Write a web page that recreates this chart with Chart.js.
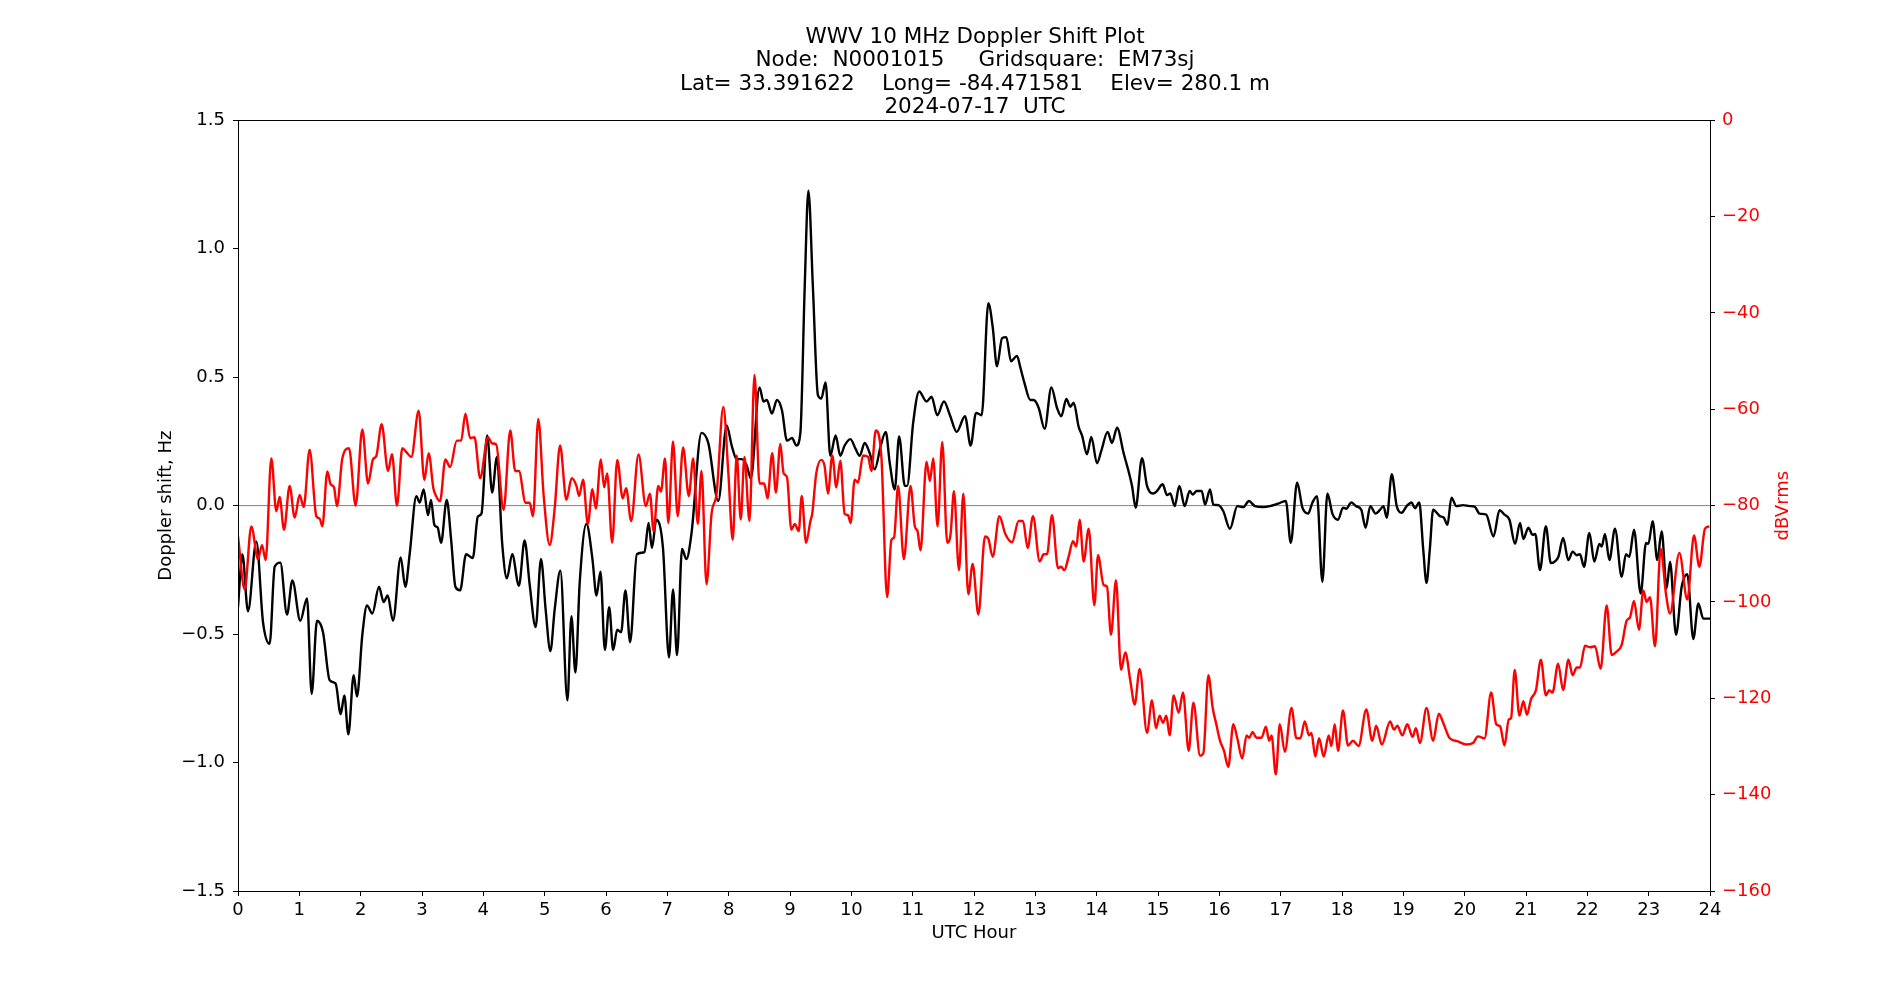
<!DOCTYPE html>
<html>
<head>
<meta charset="utf-8">
<title>WWV 10 MHz Doppler Shift Plot</title>
<script src="https://cdn.jsdelivr.net/npm/chart.js@4/dist/chart.umd.min.js"></script>
<style>
  html, body { margin: 0; padding: 0; background: #fff; }
  canvas { display: block; }
</style>
</head>
<body>
<canvas id="dopplerChart" width="1900" height="1000"></canvas>
<script>
// Doppler shift trace (black, left axis) - hours UTC and Hz
const dopplerHours = [
  0.000, 0.071, 0.163, 0.299, 0.408, 0.516, 0.598, 0.690, 0.799, 0.886,
  1.016, 1.125, 1.201, 1.288, 1.386, 1.495, 1.592, 1.674, 1.734, 1.799,
  1.886, 1.940, 2.027, 2.103, 2.190, 2.299, 2.375, 2.440, 2.527, 2.652,
  2.728, 2.799, 2.908, 2.962, 3.027, 3.098, 3.147, 3.202, 3.255, 3.311,
  3.403, 3.474, 3.545, 3.621, 3.719, 3.828, 3.910, 3.970, 4.063, 4.144,
  4.221, 4.308, 4.384, 4.471, 4.580, 4.673, 4.755, 4.853, 4.940, 5.016,
  5.093, 5.163, 5.256, 5.371, 5.436, 5.501, 5.572, 5.681, 5.779, 5.845,
  5.910, 5.981, 6.052, 6.117, 6.183, 6.246, 6.317, 6.393, 6.503, 6.628,
  6.694, 6.749, 6.820, 6.929, 7.027, 7.093, 7.158, 7.240, 7.311, 7.393,
  7.557, 7.667, 7.831, 7.967, 8.049, 8.131, 8.213, 8.295, 8.361, 8.503,
  8.568, 8.623, 8.705, 8.787, 8.869, 8.951, 9.033, 9.104, 9.169, 9.240,
  9.300, 9.373, 9.455, 9.510, 9.580, 9.657, 9.744, 9.820, 9.891, 9.984,
  10.071, 10.136, 10.218, 10.300, 10.381, 10.480, 10.561, 10.627, 10.708, 10.779,
  10.872, 10.910, 11.008, 11.106, 11.226, 11.308, 11.401, 11.510, 11.608, 11.717,
  11.853, 11.946, 12.033, 12.125, 12.234, 12.305, 12.375, 12.457, 12.527, 12.603,
  12.701, 12.755, 12.821, 12.918, 12.973, 13.054, 13.152, 13.261, 13.353, 13.424,
  13.505, 13.571, 13.625, 13.707, 13.761, 13.842, 13.913, 14.005, 14.076, 14.179,
  14.250, 14.332, 14.440, 14.576, 14.636, 14.739, 14.821, 14.918, 14.984, 15.076,
  15.147, 15.201, 15.272, 15.348, 15.435, 15.516, 15.565, 15.631, 15.712, 15.767,
  15.848, 15.902, 15.984, 16.065, 16.173, 16.293, 16.390, 16.482, 16.580, 16.715,
  16.824, 16.959, 17.084, 17.165, 17.268, 17.355, 17.447, 17.518, 17.593, 17.680,
  17.762, 17.843, 17.935, 18.016, 18.070, 18.152, 18.230, 18.314, 18.385, 18.461,
  18.547, 18.622, 18.676, 18.730, 18.811, 18.892, 18.973, 19.054, 19.135, 19.189,
  19.259, 19.324, 19.378, 19.432, 19.486, 19.595, 19.660, 19.719, 19.784, 19.865,
  19.973, 20.081, 20.162, 20.243, 20.351, 20.470, 20.568, 20.649, 20.730, 20.822,
  20.903, 20.957, 21.038, 21.108, 21.151, 21.227, 21.324, 21.405, 21.486, 21.530,
  21.605, 21.690, 21.761, 21.826, 21.880, 21.946, 22.033, 22.114, 22.196, 22.234,
  22.288, 22.359, 22.451, 22.560, 22.630, 22.685, 22.761, 22.870, 22.957, 22.995,
  23.065, 23.141, 23.212, 23.293, 23.348, 23.446, 23.538, 23.630, 23.728, 23.810,
  23.891, 24.000
];
const dopplerHz = [
  -0.395, -0.189, -0.411, -0.139, -0.454, -0.538, -0.238, -0.222, -0.424, -0.291,
  -0.448, -0.361, -0.733, -0.448, -0.493, -0.680, -0.693, -0.811, -0.739, -0.890,
  -0.660, -0.743, -0.503, -0.389, -0.420, -0.316, -0.375, -0.350, -0.448, -0.202,
  -0.316, -0.189, 0.037, 0.012, 0.063, -0.037, 0.022, -0.075, -0.085, -0.145,
  0.022, -0.130, -0.316, -0.330, -0.189, -0.204, -0.043, -0.031, 0.273, 0.051,
  0.189, -0.149, -0.283, -0.189, -0.312, -0.136, -0.306, -0.473, -0.208, -0.405,
  -0.566, -0.405, -0.253, -0.758, -0.430, -0.650, -0.297, -0.071, -0.208, -0.350,
  -0.257, -0.562, -0.395, -0.562, -0.483, -0.493, -0.330, -0.532, -0.189, -0.181,
  -0.067, -0.165, -0.055, -0.165, -0.591, -0.326, -0.582, -0.169, -0.208, -0.110,
  0.283, 0.244, 0.018, 0.312, 0.234, 0.181, 0.181, 0.155, 0.106, 0.460,
  0.405, 0.411, 0.358, 0.411, 0.371, 0.253, 0.263, 0.234, 0.283, 0.853,
  1.226, 0.853, 0.430, 0.417, 0.479, 0.194, 0.273, 0.194, 0.234, 0.259,
  0.220, 0.194, 0.244, 0.204, 0.141, 0.234, 0.287, 0.165, 0.063, 0.269,
  0.077, 0.077, 0.322, 0.444, 0.405, 0.424, 0.352, 0.405, 0.352, 0.287,
  0.348, 0.234, 0.361, 0.352, 0.788, 0.695, 0.542, 0.652, 0.656, 0.562,
  0.583, 0.538, 0.479, 0.411, 0.411, 0.381, 0.299, 0.460, 0.381, 0.348,
  0.415, 0.385, 0.401, 0.306, 0.273, 0.200, 0.267, 0.165, 0.214, 0.287,
  0.244, 0.303, 0.204, 0.077, -0.008, 0.185, 0.077, 0.047, 0.057, 0.083,
  0.041, 0.047, -0.002, 0.077, -0.002, 0.057, 0.043, 0.057, 0.057, 0.004,
  0.063, 0.004, 0.002, -0.022, -0.090, -0.002, -0.006, 0.018, -0.002, -0.006,
  -0.002, 0.008, 0.018, -0.145, 0.090, -0.008, -0.031, 0.012, 0.037, -0.297,
  0.047, -0.031, -0.055, -0.008, -0.012, 0.012, -0.002, -0.016, -0.086, -0.002,
  -0.031, -0.016, -0.002, -0.047, 0.122, -0.002, -0.028, -0.002, 0.012, -0.010,
  0.012, -0.169, -0.301, -0.169, -0.016, -0.041, -0.047, -0.075, 0.031, -0.002,
  0.002, -0.002, -0.004, -0.031, -0.035, -0.120, -0.018, -0.035, -0.055, -0.149,
  -0.067, -0.130, -0.086, -0.114, -0.110, -0.251, -0.080, -0.224, -0.214, -0.198,
  -0.126, -0.212, -0.179, -0.193, -0.189, -0.238, -0.106, -0.218, -0.149, -0.159,
  -0.110, -0.212, -0.090, -0.277, -0.189, -0.199, -0.094, -0.342, -0.145, -0.149,
  -0.061, -0.212, -0.100, -0.322, -0.218, -0.503, -0.316, -0.267, -0.519, -0.381,
  -0.440, -0.440
];

// Received power trace (red, right axis) - hours UTC and dBVrms
const powerHours = [
  0.000, 0.109, 0.217, 0.326, 0.391, 0.451, 0.543, 0.625, 0.679, 0.750,
  0.842, 0.924, 1.005, 1.071, 1.168, 1.277, 1.332, 1.375, 1.457, 1.511,
  1.565, 1.614, 1.701, 1.810, 1.918, 2.027, 2.120, 2.201, 2.255, 2.342,
  2.446, 2.511, 2.592, 2.679, 2.745, 2.826, 2.946, 3.038, 3.109, 3.185,
  3.229, 3.294, 3.381, 3.458, 3.567, 3.638, 3.708, 3.785, 3.856, 3.948,
  4.074, 4.144, 4.210, 4.330, 4.439, 4.520, 4.580, 4.689, 4.755, 4.809,
  4.896, 4.984, 5.082, 5.163, 5.251, 5.354, 5.441, 5.518, 5.561, 5.627,
  5.703, 5.779, 5.834, 5.916, 5.970, 6.019, 6.101, 6.183, 6.273, 6.328,
  6.410, 6.530, 6.650, 6.716, 6.776, 6.852, 6.896, 6.962, 7.016, 7.093,
  7.169, 7.257, 7.350, 7.421, 7.497, 7.557, 7.639, 7.721, 7.803, 7.913,
  7.995, 8.066, 8.131, 8.197, 8.257, 8.339, 8.421, 8.503, 8.579, 8.634,
  8.710, 8.770, 8.842, 8.896, 8.951, 9.022, 9.077, 9.142, 9.191, 9.262,
  9.333, 9.362, 9.428, 9.510, 9.564, 9.619, 9.690, 9.755, 9.820, 9.891,
  9.946, 9.989, 10.054, 10.109, 10.191, 10.272, 10.327, 10.398, 10.490, 10.583,
  10.654, 10.697, 10.763, 10.856, 10.965, 11.035, 11.079, 11.128, 11.226, 11.281,
  11.335, 11.406, 11.482, 11.564, 11.619, 11.673, 11.755, 11.826, 11.907, 11.978,
  12.071, 12.180, 12.234, 12.305, 12.414, 12.511, 12.620, 12.728, 12.799, 12.875,
  12.962, 13.071, 13.136, 13.190, 13.272, 13.370, 13.418, 13.473, 13.543, 13.614,
  13.668, 13.723, 13.788, 13.870, 13.962, 14.022, 14.114, 14.168, 14.234, 14.315,
  14.397, 14.467, 14.549, 14.620, 14.701, 14.821, 14.902, 14.967, 15.027, 15.082,
  15.136, 15.190, 15.255, 15.337, 15.408, 15.500, 15.577, 15.686, 15.740, 15.821,
  15.892, 15.946, 16.011, 16.076, 16.146, 16.228, 16.293, 16.374, 16.444, 16.488,
  16.542, 16.607, 16.688, 16.759, 16.813, 16.851, 16.921, 16.986, 17.068, 17.176,
  17.257, 17.322, 17.393, 17.463, 17.501, 17.566, 17.626, 17.702, 17.783, 17.827,
  17.881, 17.935, 18.016, 18.098, 18.179, 18.271, 18.396, 18.493, 18.558, 18.649,
  18.784, 18.849, 18.903, 18.984, 19.065, 19.151, 19.205, 19.270, 19.378, 19.486,
  19.578, 19.659, 19.757, 19.876, 20.027, 20.135, 20.216, 20.324, 20.432, 20.514,
  20.578, 20.649, 20.719, 20.757, 20.816, 20.892, 20.957, 21.016, 21.081, 21.162,
  21.243, 21.324, 21.378, 21.432, 21.524, 21.605, 21.692, 21.761, 21.826, 21.880,
  21.962, 22.043, 22.125, 22.217, 22.315, 22.397, 22.478, 22.560, 22.641, 22.696,
  22.761, 22.842, 22.913, 22.967, 23.022, 23.103, 23.196, 23.283, 23.348, 23.500,
  23.630, 23.739, 23.826, 23.918, 23.989
];
const powerDb = [
  -86.4, -97.4, -84.3, -91.1, -88.2, -91.3, -70.2, -81.2, -78.2, -85.0,
  -75.9, -82.5, -77.8, -80.3, -68.4, -82.2, -82.7, -84.3, -72.9, -75.6,
  -76.2, -80.1, -70.2, -68.1, -80.0, -64.2, -75.4, -70.4, -69.7, -63.1,
  -72.8, -69.3, -80.0, -68.1, -68.9, -69.9, -60.3, -74.7, -69.1, -76.4,
  -78.0, -79.1, -70.4, -72.0, -66.5, -66.5, -60.9, -66.0, -65.8, -74.3,
  -65.8, -67.1, -67.3, -80.9, -64.4, -72.8, -72.8, -79.4, -79.4, -82.2,
  -62.0, -78.0, -88.2, -80.6, -67.5, -78.8, -74.3, -75.9, -78.0, -74.6,
  -83.8, -76.6, -80.6, -70.4, -76.2, -73.3, -87.7, -70.5, -78.5, -76.4,
  -83.2, -69.4, -80.1, -77.5, -85.3, -75.9, -77.1, -70.2, -83.6, -66.7,
  -82.2, -67.9, -78.0, -70.2, -83.8, -72.8, -96.3, -81.7, -77.5, -59.5,
  -73.3, -87.1, -69.6, -82.9, -69.9, -83.2, -52.9, -75.4, -75.4, -78.5,
  -69.1, -77.3, -67.2, -73.3, -74.1, -85.0, -83.8, -85.3, -78.0, -87.7,
  -83.2, -81.7, -73.3, -70.5, -71.8, -77.5, -69.6, -76.2, -70.7, -81.7,
  -82.0, -83.6, -74.6, -75.2, -69.6, -69.9, -72.8, -64.4, -69.9, -99.0,
  -87.1, -86.6, -75.9, -91.1, -75.9, -84.3, -85.3, -89.3, -70.9, -74.9,
  -70.2, -84.3, -66.8, -87.7, -85.8, -77.0, -93.4, -77.5, -98.4, -92.1,
  -102.6, -86.4, -86.9, -90.6, -82.2, -85.9, -87.6, -83.2, -83.2, -88.8,
  -82.2, -91.6, -90.1, -90.1, -82.0, -93.0, -92.7, -93.4, -90.6, -87.4,
  -88.5, -82.9, -91.6, -84.8, -100.7, -90.3, -96.5, -96.8, -106.8, -95.5,
  -114.1, -110.5, -116.4, -121.3, -113.9, -127.2, -120.4, -126.2, -123.6, -125.1,
  -123.6, -127.7, -119.4, -123.0, -118.8, -130.9, -120.9, -131.9, -131.4, -115.2,
  -122.0, -125.1, -128.8, -130.9, -134.2, -125.4, -128.3, -132.5, -127.7, -128.2,
  -127.0, -128.2, -128.2, -125.9, -128.8, -127.7, -135.8, -125.4, -131.1, -122.0,
  -128.3, -128.3, -124.8, -127.7, -127.2, -132.1, -128.3, -132.1, -127.7, -129.9,
  -125.4, -130.9, -122.5, -129.8, -128.8, -129.9, -122.3, -128.8, -125.7, -129.6,
  -124.8, -126.5, -125.7, -127.7, -125.4, -128.0, -126.2, -129.3, -122.0, -128.8,
  -123.2, -125.4, -128.3, -128.9, -129.6, -129.3, -127.9, -128.3, -118.8, -125.4,
  -125.8, -129.8, -124.4, -124.1, -114.1, -123.6, -120.6, -123.4, -120.2, -118.3,
  -112.0, -119.4, -118.3, -118.8, -112.8, -118.3, -112.0, -115.2, -113.6, -113.6,
  -109.1, -109.4, -109.2, -113.9, -100.7, -111.0, -110.3, -108.9, -103.9, -103.2,
  -99.8, -105.8, -97.6, -100.0, -99.0, -109.2, -89.0, -98.4, -102.4, -89.8,
  -99.5, -86.2, -92.7, -84.8, -84.3
];

// Zero reference line
const zeroHours = [0, 24];
const zeroHz = [0, 0];

const titleLines = [
  'WWV 10 MHz Doppler Shift Plot',
  'Node:  N0001015     Gridsquare:  EM73sj',
  'Lat= 33.391622    Long= -84.471581    Elev= 280.1 m',
  '2024-07-17  UTC'
];

const toPoints = (xs, ys) => xs.map((x, i) => ({ x, y: ys[i] }));
const minus = s => String(s).replace('-', '\u2212');

Chart.defaults.font.family = "'DejaVu Sans', sans-serif";
Chart.defaults.font.size = 18;
Chart.defaults.color = '#000';

// box around plot area + right axis label (reads bottom-to-top like matplotlib)
const framePlugin = {
  id: 'frame',
  afterDatasetsDraw(chart) {
    const { ctx, chartArea: a } = chart;
    ctx.save();
    ctx.strokeStyle = '#000';
    ctx.lineWidth = 1;
    ctx.strokeRect(Math.round(a.left) + 0.5, Math.round(a.top) + 0.5,
      Math.round(a.right - a.left), Math.round(a.bottom - a.top));
    ctx.restore();
  },
  afterDraw(chart) {
    const { ctx, chartArea: a } = chart;
    ctx.save();
    ctx.translate(1783, (a.top + a.bottom) / 2);
    ctx.rotate(-Math.PI / 2);
    ctx.fillStyle = '#ff0000';
    ctx.font = "18px 'DejaVu Sans', sans-serif";
    ctx.textAlign = 'center';
    ctx.textBaseline = 'middle';
    ctx.fillText('dBVrms', 0, 0);
    ctx.restore();
  }
};

new Chart(document.getElementById('dopplerChart'), {
  type: 'line',
  data: {
    datasets: [
      {
        label: 'dBVrms',
        data: toPoints(powerHours, powerDb),
        yAxisID: 'y1',
        borderColor: '#ff0000',
        borderWidth: 2.4,
        cubicInterpolationMode: 'monotone',
        order: 0
      },
      {
        label: 'Doppler shift',
        data: toPoints(dopplerHours, dopplerHz),
        yAxisID: 'y',
        borderColor: '#000000',
        borderWidth: 2.4,
        cubicInterpolationMode: 'monotone',
        order: 1
      },
      {
        label: 'zero',
        data: toPoints(zeroHours, zeroHz),
        yAxisID: 'y',
        borderColor: '#808080',
        borderWidth: 1,
        order: 2
      }
    ]
  },
  options: {
    responsive: false,
    animation: false,
    devicePixelRatio: 1,
    elements: { point: { radius: 0 } },
    layout: { padding: { top: 10, left: 152, right: 102, bottom: 52 } },
    plugins: {
      legend: { display: false },
      tooltip: { enabled: false },
      title: {
        display: true,
        text: titleLines,
        color: '#000',
        font: { size: 21.5, weight: 'normal', lineHeight: 1.09 },
        padding: { top: 15.5, bottom: 1 }
      }
    },
    scales: {
      x: {
        type: 'linear',
        min: 0,
        max: 24,
        afterFit: s => { s.height = 57; },
        grid: { drawOnChartArea: false, drawTicks: true, tickLength: 5, color: '#000' },
        border: { display: true, color: '#000' },
        ticks: { stepSize: 1, autoSkip: false, maxRotation: 0, padding: 4, color: '#000' },
        title: { display: true, text: 'UTC Hour', color: '#000', padding: { top: 4, bottom: 4 } }
      },
      y: {
        position: 'left',
        min: -1.5,
        max: 1.5,
        afterFit: s => { s.width = 86; },
        grid: { drawOnChartArea: false, drawTicks: true, tickLength: 5, color: '#000' },
        border: { display: true, color: '#000' },
        ticks: { stepSize: 0.5, padding: 8, color: '#000', callback: v => minus(v.toFixed(1)) },
        title: { display: true, text: 'Doppler shift, Hz', color: '#000', padding: { top: 4, bottom: 4 } }
      },
      y1: {
        position: 'right',
        min: -160,
        max: 0,
        afterFit: s => { s.width = 88; },
        grid: { drawOnChartArea: false, drawTicks: true, tickLength: 5, color: '#000' },
        border: { display: true, color: '#000' },
        ticks: { stepSize: 20, padding: 7, color: '#ff0000', callback: v => minus(v) }
      }
    }
  },
  plugins: [framePlugin]
});
</script>
</body>
</html>
